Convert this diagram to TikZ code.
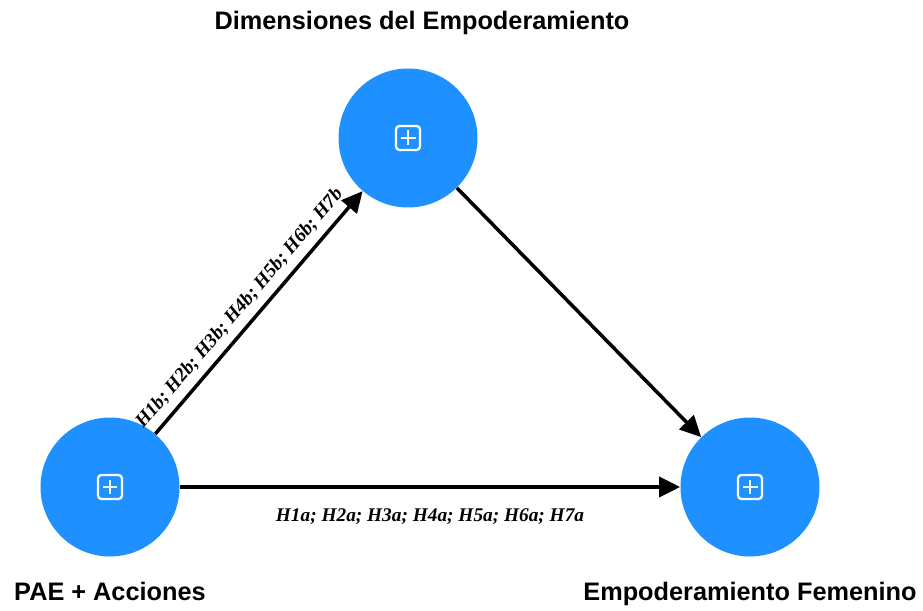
\documentclass[tikz,border=0pt]{standalone}
\usepackage{fontspec}
\setmainfont{Liberation Serif}
\newfontfamily\headfont{Liberation Sans}
\usetikzlibrary{arrows.meta, positioning}
\definecolor{nodeblue}{RGB}{30,144,255}

\begin{document}
\begin{tikzpicture}[
		construct/.style={circle, fill=nodeblue, minimum size=2.78cm, inner sep=0pt},
		iconbox/.style={draw=white, line width=1.3pt, rounded corners=2pt, minimum size=0.48cm, inner sep=0pt,
			path picture={\draw[white, line width=1.3pt]
				([yshift=0.15cm]path picture bounding box.center) -- ([yshift=-0.15cm]path picture bounding box.center)
				([xshift=-0.15cm]path picture bounding box.center) -- ([xshift=0.15cm]path picture bounding box.center);}},
		title/.style={font=\headfont\bfseries\fontsize{14.4}{17}\selectfont, inner sep=0pt},
		hyp/.style={font=\bfseries\itshape\fontsize{11}{13}\selectfont},
		arrow/.style={-{Triangle[length=0.42cm, width=0.4cm]}, line width=2pt}
		]
		\useasboundingbox (0,0) rectangle (18.46,12.2);
		
		% Constructs
		\node[construct] (pae) at (2.2,2.46) {};
		\node[construct] (dim) at (8.16,9.44) {};
		\node[construct] (emp) at (15.0,2.46) {};
		
		\foreach \n in {pae,dim,emp}
			\node[iconbox] (icon-\n) at (\n) {};
		
		% Names
		\node[title] (dimname) [above=0.66cm of dim, xshift=0.28cm] {Dimensiones del Empoderamiento};
		\node[title] (paename) [below=0.5cm of pae] {PAE + Acciones};
		\node[title] (empname) [below=0.5cm of emp] {Empoderamiento Femenino};
		
		% Paths
		\draw[arrow] (pae) -- node[hyp, sloped, above=1pt, pos=0.47] {H1b; H2b; H3b; H4b; H5b; H6b; H7b} (dim);
		\draw[arrow] (dim) -- (emp);
		\draw[arrow] (pae) -- node[hyp, below=0.29cm] {H1a; H2a; H3a; H4a; H5a; H6a; H7a} (emp);
		
	\end{tikzpicture}
\end{document}
